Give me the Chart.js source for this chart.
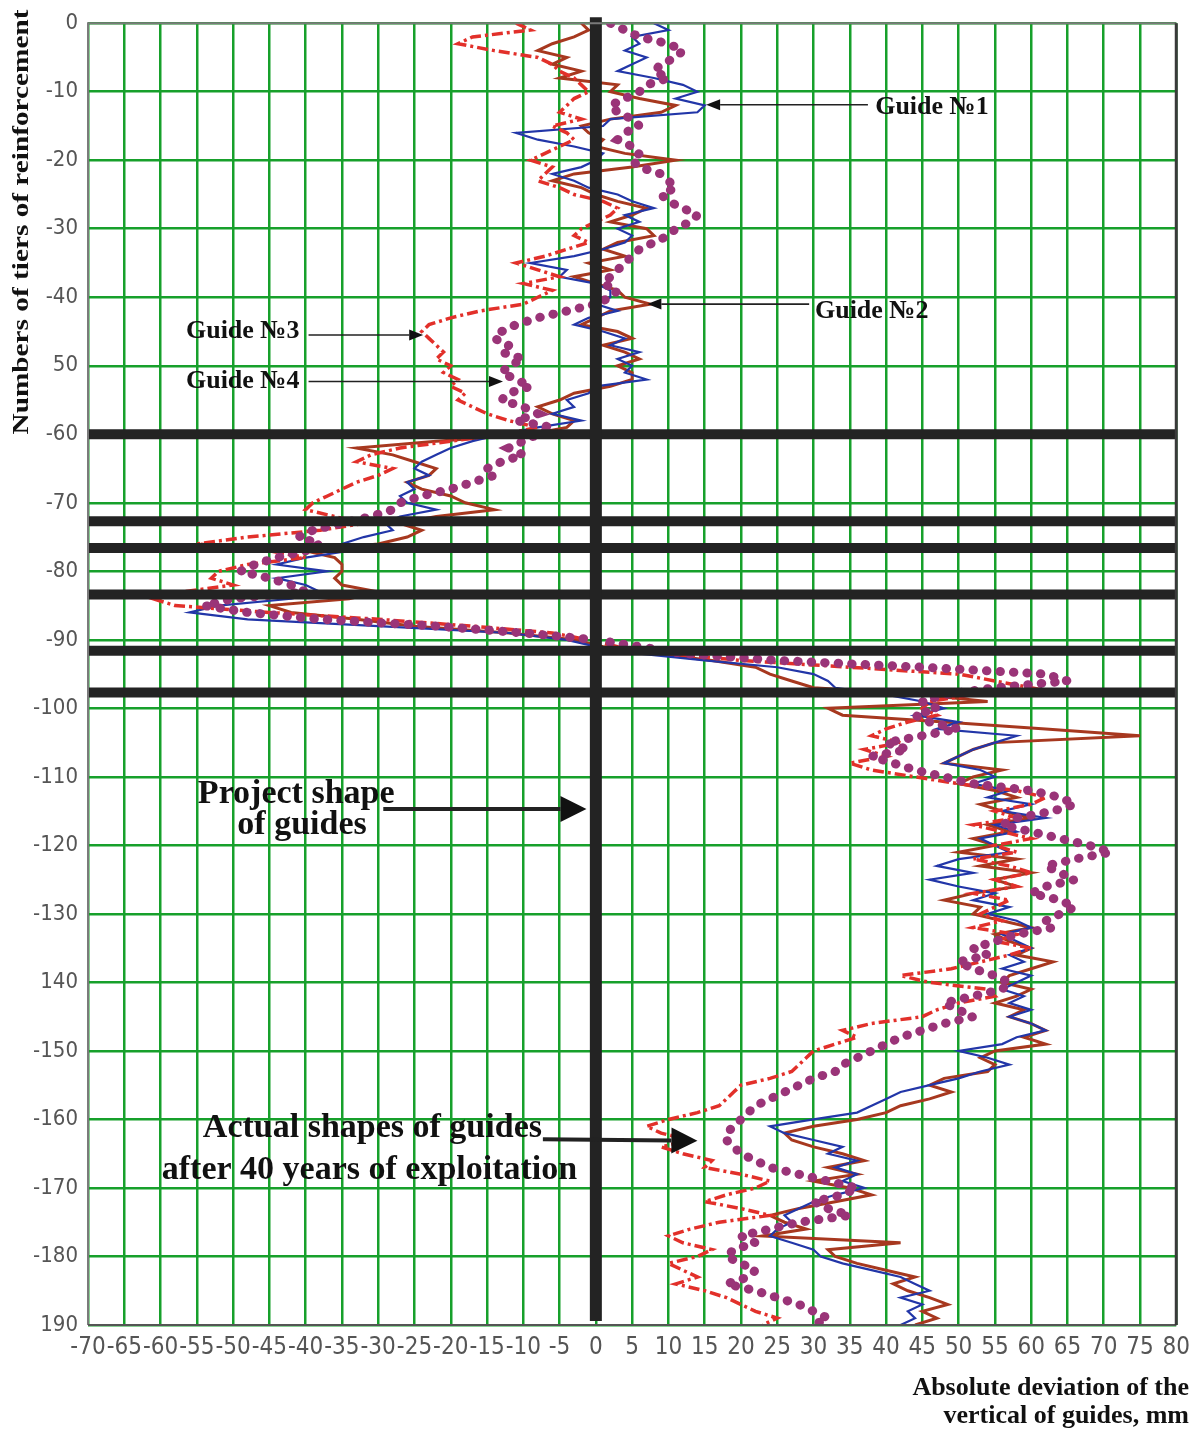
<!DOCTYPE html>
<html>
<head>
<meta charset="utf-8">
<title>Absolute deviation of guides</title>
<script src="https://cdn.jsdelivr.net/npm/chart.js@4.4.1/dist/chart.umd.min.js"></script>
<style>
  html, body { margin: 0; padding: 0; background: #fff; }
  canvas { display: block; }
</style>
</head>
<body>
<canvas id="guidesChart" width="1198" height="1429"></canvas>
<script>
// tier numbers, 0 at the top of the shaft down to -190
const tiers = Array.from({ length: 191 }, (_, i) => -i);

// absolute deviation of each guide, mm (one value per tier)
const guide1 = [
    8, 10, 5, 6, 4, 7, 5, 3, 8, 12,
    14, 11, 15, 14, 2, 1, -11, -8, -3, 1,
    0, -2, -6, -3, -1, 3, 5, 8, 4, 6,
    3, 5, 4, 1, -3, -9, -4, -5, 0, 2,
    2, 0, 3, -1, -3, 1, 4, 2, 6, 3,
    5, 4, 7, 0, -1, -4, -3, -6, -2, -8,
    -13, -17, -20, -22, -24, -25, -23, -26, -25, -27,
    -26, -22, -27, -29, -28, -32, -35, -34, -40, -44,
    -37, -44, -40, -38, -42, -52, -56, -48, -30, -12,
    -4, 0, 6, 15, 25, 30, 32, 33, 40, 45,
    48, 44, 50, 47, 58, 55, 52, 50, 48, 53,
    55, 52, 57, 54, 60, 56, 62, 55, 58, 53,
    55, 57, 50, 47, 52, 46, 50, 55, 52, 57,
    54, 58, 60, 56, 58, 60, 57, 59, 56, 60,
    58, 56, 59, 57, 60, 57, 60, 62, 58, 56,
    50, 54, 57, 53, 50, 46, 42, 40, 38, 36,
    30, 24, 26, 30, 34, 32, 36, 33, 36, 34,
    37, 33, 30, 28, 26, 27, 25, 24, 27, 30,
    31, 34, 38, 42, 44, 46, 42, 45, 43, 44,
    42
];
const guide2 = [
    -2, -1, -3, -6, -8, -4, -6, -2, -5, 3,
    2, 6, 11, 9, 2, -2, -1, 1, 0, 4,
    11, 5, -3, -6, -2, 0, 3, 7, 5, 2,
    7, 8, 3, 1, 4, -1, 2, -3, 0, 3,
    4, 7.5, 2, 0, -2, 3, 5, 1, 4, 6,
    3, 5, 5, 2, -3, -5, -8, -6, -3, -4,
    -9, -22, -33, -28, -25, -22, -23, -26, -24, -20,
    -18, -14, -22, -27, -24, -26, -30, -40, -36, -35,
    -35, -36, -35, -30, -34, -45, -42, -33, -25, -12,
    -3, 1, 8, 16, 22, 24, 27, 30, 45, 54,
    32, 34, 48, 62, 75, 55, 52, 50, 48, 56,
    52, 50, 55, 58, 53, 56, 60, 54, 57, 52,
    55, 50, 58, 53, 60, 55, 58, 52, 48, 53,
    52, 56, 60, 55, 57, 60, 58, 63, 60, 57,
    56, 60, 58, 55, 59, 57, 60, 62, 59, 62,
    55, 53, 55, 54, 48, 46, 49, 46, 42, 40,
    36, 30, 26, 27, 30, 34, 37, 32, 36, 30,
    35, 38, 33, 28, 24, 26, 29, 23, 42, 32,
    33, 36, 40, 44, 41, 43, 46, 48.5, 45, 47,
    44
];
const guide3 = [
    -11, -9, -17, -19, -14, -8, -6, -5, -3, -2,
    -1, -3, -4, -5, -2, -6, -4, -3, -5, -7,
    -9, -6, -7, -8, -5, -3, 1, 3, 2, 0,
    -2, -3, -1, -4, -7, -11, -8, -5, -10, -6,
    -8, -10, -16, -20, -23, -24, -23, -22, -21, -22,
    -20, -21, -19, -20, -18, -19, -17, -15, -12, -8,
    -13, -20, -27, -31, -33, -28, -30, -33, -35, -37,
    -39, -40, -36, -32, -38, -48, -55, -45, -40, -48,
    -52, -53, -50, -57, -61, -58, -45, -30, -17, -6,
    -1, 3, 10, 20, 35, 50, 55, 60, 52, 46,
    45, 47, 43, 40, 38, 42, 37, 40, 35, 38,
    44, 50, 58, 62, 60, 55, 58, 52, 56, 60,
    55, 58, 52, 57, 60, 55, 58, 52, 57, 55,
    53, 56, 52, 58, 55, 60, 57, 53, 49, 42,
    46, 54, 55, 50, 47, 45, 38, 34, 36, 33,
    30, 29, 28, 27, 24, 20, 19, 18, 17, 14,
    10, 7, 9, 13, 9, 12, 16, 15, 20, 24,
    22, 18, 15, 20, 24, 17, 13, 10, 12, 16,
    14, 10, 12, 14, 11, 15, 18, 20, 22, 25,
    23
];
const guide4 = [
    2, 4, 6, 10, 12, 11, 9, 8, 10, 7,
    6, 4, 2, 3, 5, 6, 4, 3, 5, 6,
    5, 6, 9, 10, 11, 9, 10, 12, 14, 13,
    11, 10, 8, 6, 5, 4, 3, 2, 1, 3,
    2, 0, -4, -8, -11, -13, -14, -12, -13, -10,
    -12, -13, -11, -9, -12, -13, -10, -8, -11, -6,
    -8, -10, -12, -10, -13, -15, -14, -17, -20, -24,
    -27, -28, -31, -35, -39, -41, -38, -40, -44, -47,
    -49, -45, -42, -40, -50, -54, -48, -38, -22, -10,
    0, 6, 12, 25, 45, 62, 65, 55, 48, 45,
    47, 44, 46, 50, 45, 40, 43, 38, 41, 44,
    48, 52, 60, 64, 66, 63, 58, 56, 60, 64,
    68, 71, 66, 62, 64, 66, 62, 60, 64, 66,
    64, 62, 63, 58, 55, 52, 54, 50, 52, 55,
    57, 56, 52, 48, 50, 52, 48, 45, 42, 40,
    38, 36, 34, 33, 30, 28, 26, 24, 22, 21,
    20, 19, 18, 18, 19, 20, 22, 24, 28, 32,
    36, 34, 30, 32, 35, 28, 24, 20, 22, 19,
    18, 20, 22, 21, 18, 22, 25, 28, 30, 32,
    30
];

// tiers marked with heavy black lines
const blackTiers = [-60, -72.7, -76.6, -83.4, -91.6, -97.7];

// y tick labels as printed in the figure
const yTickValues = [0, -10, -20, -30, -40, -50, -60, -70, -80, -90, -100,
    -110, -120, -130, -140, -150, -160, -170, -180, -190];
const yTickText = ['0', '-10', '-20', '-30', '-40', '50', '-60', '-70', '-80', '-90', '-100',
    '-110', '-120', '-130', '140', '-150', '-160', '-170', '-180', '190'];

const guideNames = ['Guide №1', 'Guide №2', 'Guide №3', 'Guide №4'];

const toPoints = (values) => values.map((v, i) => ({ x: v, y: tiers[i] }));

// labels and arrows, anchored in data units
const notes = {
    guides: [
        { text: [38.5, -12.3], from: [37.5, -11.9], to: [15.2, -11.9] },
        { text: [30.2, -42.0], from: [29.4, -41.0], to: [7.1, -41.0] },
        { text: [-56.5, -44.9], from: [-39.6, -45.5], to: [-23.8, -45.5] },
        { text: [-56.5, -52.2], from: [-39.6, -52.3], to: [-12.8, -52.3] }
    ],
    project: { lines: ['Project shape', 'of guides'], at: [[-41.3, -112.5], [-40.5, -117.0]],
        from: [-29.3, -114.7], to: [-1.3, -114.7] },
    actual: { lines: ['Actual shapes of guides', 'after 40 years of exploitation'],
        at: [[-30.8, -161.3], [-31.2, -167.4]], from: [-7.3, -162.9], to: [14.0, -163.1] }
};

function arrow(ctx, x1, y1, x2, y2, width, headLen, headW) {
    const ang = Math.atan2(y2 - y1, x2 - x1);
    const bx = x2 - headLen * Math.cos(ang);
    const by = y2 - headLen * Math.sin(ang);
    ctx.lineWidth = width;
    ctx.beginPath();
    ctx.moveTo(x1, y1);
    ctx.lineTo(bx, by);
    ctx.stroke();
    ctx.beginPath();
    ctx.moveTo(x2, y2);
    ctx.lineTo(bx + headW / 2 * Math.sin(ang), by - headW / 2 * Math.cos(ang));
    ctx.lineTo(bx - headW / 2 * Math.sin(ang), by + headW / 2 * Math.cos(ang));
    ctx.closePath();
    ctx.fill();
}

const overlay = {
    id: 'overlay',
    afterDatasetsDraw(chart) {
        const { ctx, chartArea: a, scales: { x, y } } = chart;
        ctx.save();
        ctx.strokeStyle = '#232323';
        ctx.lineWidth = 10;
        blackTiers.forEach(t => {
            const py = y.getPixelForValue(t);
            ctx.beginPath();
            ctx.moveTo(a.left, py);
            ctx.lineTo(a.right, py);
            ctx.stroke();
        });
        // project shape of guides: the vertical x = 0
        const px0 = x.getPixelForValue(0);
        ctx.lineWidth = 12;
        ctx.beginPath();
        ctx.moveTo(px0, a.top - 6);
        ctx.lineTo(px0, a.bottom - 4);
        ctx.stroke();

        // frame
        ctx.lineWidth = 2;
        ctx.strokeStyle = '#7a7a7a';
        ctx.beginPath();
        ctx.moveTo(a.left, a.bottom);
        ctx.lineTo(a.left, a.top);
        ctx.lineTo(a.right, a.top);
        ctx.stroke();
        ctx.strokeStyle = '#555';
        ctx.beginPath();
        ctx.moveTo(a.left, a.bottom);
        ctx.lineTo(a.right, a.bottom);
        ctx.stroke();
        ctx.lineWidth = 3;
        ctx.strokeStyle = '#3a3a3a';
        ctx.beginPath();
        ctx.moveTo(a.right, a.top);
        ctx.lineTo(a.right, a.bottom);
        ctx.stroke();
        ctx.restore();
    },
    afterDraw(chart) {
        const { ctx, scales: { x, y } } = chart;
        const P = (p) => [x.getPixelForValue(p[0]), y.getPixelForValue(p[1])];
        ctx.save();
        ctx.fillStyle = '#111';
        ctx.strokeStyle = '#222';
        ctx.textBaseline = 'middle';

        // guide labels
        ctx.font = 'bold 26px "Liberation Serif", "DejaVu Serif", serif';
        ctx.textAlign = 'left';
        notes.guides.forEach((g, i) => {
            const [tx, ty] = P(g.text);
            ctx.fillText(guideNames[i], tx, ty);
            const [x1, y1] = P(g.from);
            const [x2, y2] = P(g.to);
            arrow(ctx, x1, y1, x2, y2, 1.6, 14, 11);
        });

        // big annotations
        ctx.font = 'bold 34px "Liberation Serif", "DejaVu Serif", serif';
        ctx.textAlign = 'center';
        [notes.project, notes.actual].forEach(n => {
            n.lines.forEach((line, i) => {
                const [tx, ty] = P(n.at[i]);
                ctx.fillText(line, tx, ty);
            });
            const [x1, y1] = P(n.from);
            const [x2, y2] = P(n.to);
            arrow(ctx, x1, y1, x2, y2, 4, 26, 26);
        });

        // axis titles
        ctx.font = 'bold 26px "Liberation Serif", "DejaVu Serif", serif';
        ctx.textAlign = 'right';
        ctx.fillText('Absolute deviation of the', 1189, 1388);
        ctx.fillText('vertical of guides, mm', 1189, 1416);

        ctx.translate(22, 222);
        ctx.rotate(-Math.PI / 2);
        ctx.textAlign = 'center';
        ctx.font = 'bold 24px "Liberation Serif", "DejaVu Serif", serif';
        const title = 'Numbers of tiers of reinforcement';
        const w = ctx.measureText(title).width;
        ctx.scale(425 / w, 1);
        ctx.fillText(title, 0, 0);
        ctx.restore();
    }
};

const tickFont = '"Liberation Sans Narrow", "DejaVu Sans Condensed", "Roboto Condensed", "Liberation Sans", sans-serif';

new Chart(document.getElementById('guidesChart'), {
    type: 'scatter',
    data: {
        datasets: [
            {
                label: guideNames[3],
                data: toPoints(guide4),
                showLine: true,
                borderColor: '#9a3478',
                borderWidth: 9,
                borderDash: [0.5, 13],
                borderCapStyle: 'round',
                pointRadius: 0
            },
            {
                label: guideNames[2],
                data: toPoints(guide3),
                showLine: true,
                borderColor: '#e2302a',
                borderWidth: 3.5,
                borderDash: [11, 4, 3, 4],
                pointRadius: 0
            },
            {
                label: guideNames[0],
                data: toPoints(guide1),
                showLine: true,
                borderColor: '#2236a8',
                borderWidth: 2.2,
                pointRadius: 0
            },
            {
                label: guideNames[1],
                data: toPoints(guide2),
                showLine: true,
                borderColor: '#a7381f',
                borderWidth: 3,
                pointRadius: 0
            }
        ]
    },
    options: {
        responsive: false,
        animation: false,
        layout: { padding: { top: 18, right: 18, bottom: 64, left: 0 } },
        plugins: {
            legend: { display: false },
            tooltip: { enabled: false }
        },
        scales: {
            x: {
                type: 'linear',
                min: -70,
                max: 80,
                afterFit: (scale) => { scale.height = 40; },
                grid: { color: '#17a02b', lineWidth: 2.5, drawTicks: false },
                border: { display: false },
                ticks: {
                    stepSize: 5,
                    autoSkip: false,
                    maxRotation: 0,
                    padding: 8,
                    color: '#555',
                    font: { family: tickFont, size: 24 }
                }
            },
            y: {
                type: 'linear',
                min: -190,
                max: 0,
                afterFit: (scale) => { scale.width = 88; },
                grid: { color: '#17a02b', lineWidth: 2.5, drawTicks: false },
                border: { display: false },
                ticks: {
                    stepSize: 10,
                    autoSkip: false,
                    padding: 10,
                    color: '#555',
                    font: { family: tickFont, size: 22 },
                    callback: (value) => {
                        const i = yTickValues.indexOf(value);
                        return i >= 0 ? yTickText[i] : '';
                    }
                }
            }
        }
    },
    plugins: [overlay]
});
</script>
</body>
</html>
